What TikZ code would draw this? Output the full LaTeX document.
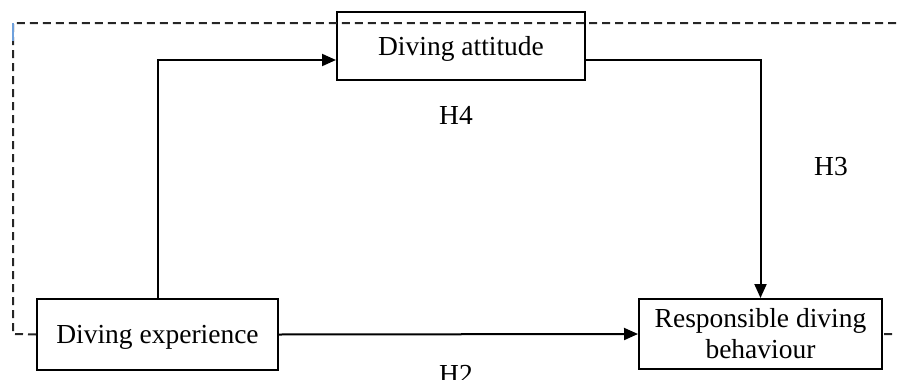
\documentclass[tikz,border=0pt]{standalone}
\usepackage{fontspec}
\setmainfont{Liberation Serif}
\usetikzlibrary{arrows.meta,calc}
\begin{document}
\begin{tikzpicture}[x=1pt,y=-1pt,
  box/.style={draw=black,line width=2pt,inner sep=0pt,align=center,
    font=\fontsize{27.5}{31}\selectfont},
  onebox/.style={box,text depth=0pt},
  conn/.style={draw=black,line width=2pt,-{Triangle[length=14pt,width=12pt]}},
  loopline/.style={draw=black!85,line width=2pt,dash pattern=on 8pt off 5pt},
  hlabel/.style={font=\fontsize{27.5}{31}\selectfont,anchor=base,inner sep=0pt}]
\useasboundingbox (0,0) rectangle (897,380);
\clip (0,0) rectangle (897,380);
\node[onebox,minimum width=248pt,minimum height=68pt] (att) at (461,46) {Diving attitude};
\node[onebox,minimum width=241pt,minimum height=71pt] (exp) at (157.5,334.5) {Diving experience};
\node[box,minimum width=243pt,minimum height=70pt] (resp) at (760.5,334) {Responsible diving\\behaviour};
\coordinate (attin) at ([yshift=-14pt]att.west);
\coordinate (attout) at ([yshift=-14pt]att.east);
\coordinate (c1) at (13,334);
\coordinate (c2) at (13,23);
\coordinate (c3) at (910,23);
\coordinate (c4) at (910,334);
\draw[loopline] (exp.west) -- (c1) -- (c2) -- (c3) -- (c4) -- (resp.east);
\draw[draw={rgb,255:red,110;green,160;blue,220},line width=1.2pt] (c2) -- ++(0,18);
\draw[conn] (exp.north) |- (attin);
\draw[conn] (attout) -| (resp.north);
\draw[conn] (exp.east) -- (resp.west);
\node[hlabel] (h4) at (456,124) {H4};
\node[hlabel] (h3) at (831,175) {H3};
\node[hlabel] (h2) at (456,383) {H2};
\end{tikzpicture}
\end{document}
